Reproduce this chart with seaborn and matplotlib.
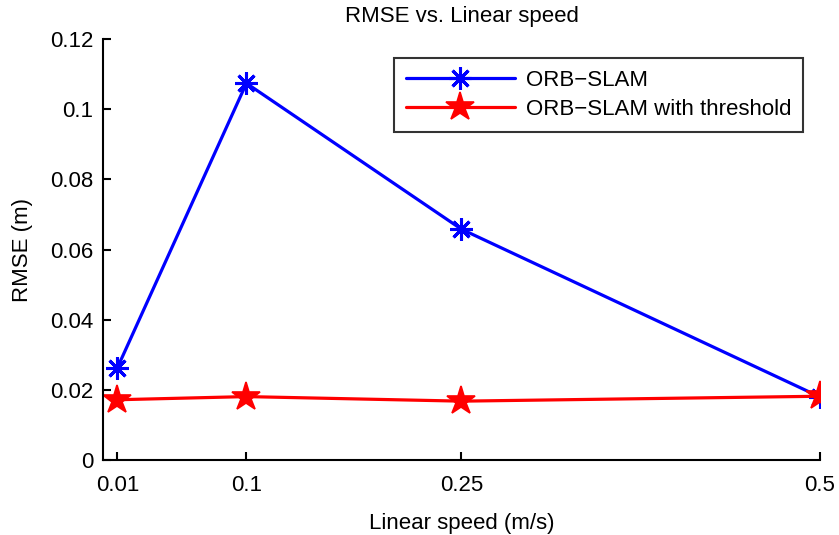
import pandas as pd
import seaborn as sns
import matplotlib.pyplot as plt
from matplotlib.ticker import FormatStrFormatter

speed = [0.01, 0.1, 0.25, 0.5]
rmse_orb = [0.0263, 0.1074, 0.0658, 0.0180]
rmse_thr = [0.0172, 0.0181, 0.0168, 0.0182]
methods = ['ORB\u2212SLAM', 'ORB\u2212SLAM with threshold']

orb = pd.DataFrame({'speed': speed, 'rmse': rmse_orb})
thr = pd.DataFrame({'speed': speed, 'rmse': rmse_thr})

sns.set_style('ticks')
plt.rcParams['font.family'] = ['Liberation Sans', 'DejaVu Sans']
plt.rcParams['font.size'] = 16
plt.rcParams['text.color'] = 'black'
plt.rcParams['axes.labelcolor'] = 'black'

fs = 16
fig = plt.figure(figsize=(8.39, 5.35), dpi=100)
ax = fig.add_axes([0.1228, 0.140, 0.8545, 0.787])

# blue asterisks, red pentagrams
sns.lineplot(data=orb, x='speed', y='rmse', color='blue', marker=(8, 2, 0),
             markersize=16, markeredgewidth=2.2, markeredgecolor='blue',
             linewidth=2.3, label=methods[0], ax=ax)
sns.lineplot(data=thr, x='speed', y='rmse', color='red', marker='*',
             markersize=21, markeredgewidth=1.2, markeredgecolor='red',
             linewidth=2.3, label=methods[1], ax=ax)

ax.set_xlim(0, 0.5)
ax.set_ylim(0, 0.12)
ax.set_xticks(speed)
ax.set_xticklabels(['0.01', '0.1', '0.25', '0.5'])
ax.set_yticks([0, 0.02, 0.04, 0.06, 0.08, 0.1, 0.12])
ax.yaxis.set_major_formatter(FormatStrFormatter('%g'))
ax.tick_params(direction='in', length=6, width=1.5, labelsize=fs,
               colors='black')
ax.tick_params(axis='x', pad=11)
ax.tick_params(axis='y', pad=7)
for s in ['left', 'bottom']:
    ax.spines[s].set_linewidth(1.5)
    ax.spines[s].set_color('black')
sns.despine(ax=ax)

ax.set_xlabel('Linear speed (m/s)', fontsize=fs, labelpad=12)
ax.set_ylabel('RMSE (m)', fontsize=fs, labelpad=12)
ax.set_title('RMSE vs. Linear speed', fontsize=fs, pad=12)

leg = ax.legend(loc='upper right', bbox_to_anchor=(0.977, 0.955), frameon=True,
                fancybox=False, edgecolor='black', fontsize=fs,
                handlelength=4.9, handletextpad=0.5, borderpad=0.55,
                labelspacing=0.35, borderaxespad=0)
leg.get_frame().set_linewidth(1.5)

fig.savefig('out.png', dpi=100)
